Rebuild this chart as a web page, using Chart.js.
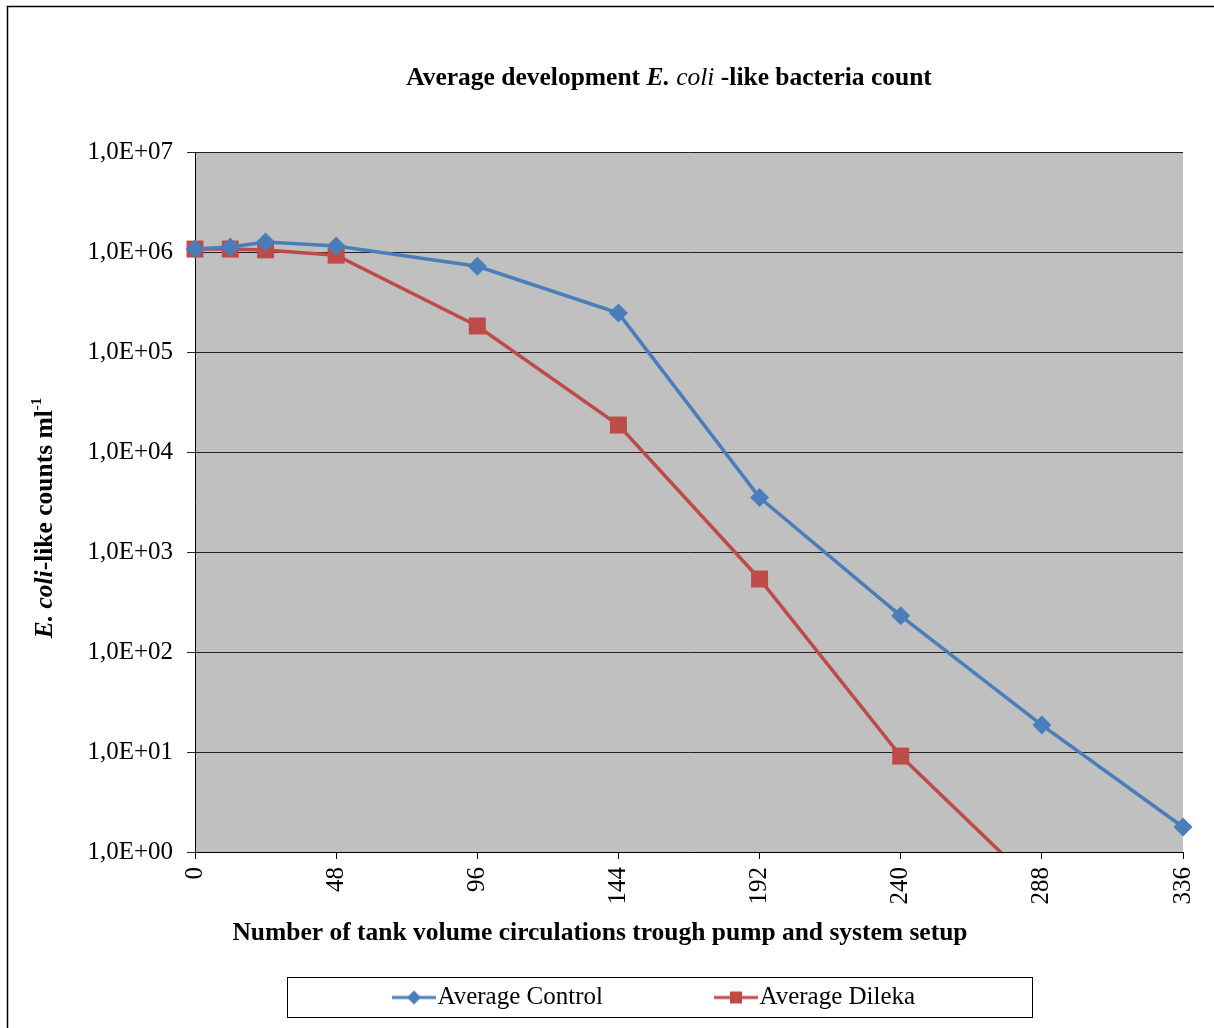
<!DOCTYPE html>
<html>
<head>
<meta charset="utf-8">
<script src="https://cdn.jsdelivr.net/npm/chart.js@4.4.1/dist/chart.umd.min.js"></script>
<style>
  html, body { margin: 0; padding: 0; background: #fff; }
  #wrap { width: 1214px; height: 1028px; position: relative; }
</style>
</head>
<body>
<div id="wrap"><canvas id="myChart"></canvas></div>
<script>
// number of tank volume circulations (x)
const circulations = [0, 12, 24, 48, 96, 144, 192, 240, 288, 336];
// average counts per ml
const controlCounts = [1.07e6, 1.12e6, 1.26e6, 1.15e6, 7.2e5, 2.45e5, 3.5e3, 230, 18.6, 1.78];
// last Dileka value lies below the axis, only the line into it shows
const dilekaCounts = [1.07e6, 1.07e6, 1.05e6, 9.3e5, 1.82e5, 1.86e4, 537, 9.1, 0.4];
const seriesNames = ["Average Control", "Average Dileka"];
const xTicks = [0, 48, 96, 144, 192, 240, 288, 336];
const yTicks = [1, 10, 100, 1e3, 1e4, 1e5, 1e6, 1e7];

const SERIF = '"Liberation Serif", "Times New Roman", serif';
const BLUE = "#4A7EBB";
const RED = "#BE4B48";

//turns 1e5 into 1,0E+05
const sciLabel = (v) => {
  const e = Math.round(Math.log10(v));
  return "1,0E" + (e < 0 ? "-" : "+") + String(Math.abs(e)).padStart(2, "0");
};

const toPoints = (xs, ys) => ys.map((y, i) => ({ x: xs[i], y: y }));

//small line+marker image for the legend (marker sits at the right end)
const legendIcon = (color, shape) => {
  const c = document.createElement("canvas");
  c.width = 158;
  c.height = 20;
  const g = c.getContext("2d");
  const x0 = 158 - 44, cx = 158 - 22, cy = 10;
  g.strokeStyle = color;
  g.lineWidth = 3;
  g.beginPath();
  g.moveTo(x0, cy);
  g.lineTo(158, cy);
  g.stroke();
  g.fillStyle = color;
  g.beginPath();
  if (shape === "diamond") {
    g.moveTo(cx, cy - 7);
    g.lineTo(cx + 7, cy);
    g.lineTo(cx, cy + 7);
    g.lineTo(cx - 7, cy);
    g.closePath();
  } else {
    g.rect(cx - 6, cy - 6, 12, 12);
  }
  g.fill();
  return c;
};
const legendIcons = [legendIcon(BLUE, "diamond"), legendIcon(RED, "square")];

//draw text made of pieces with different font styles, centered on (x, y)
function drawRich(ctx, parts, x, y) {
  let total = 0;
  parts.forEach((p) => {
    ctx.font = p.font;
    p.w = ctx.measureText(p.text).width;
    total += p.w;
  });
  let cx = x - total / 2;
  ctx.textBaseline = "middle";
  ctx.textAlign = "left";
  parts.forEach((p) => {
    ctx.font = p.font;
    ctx.fillText(p.text, cx, y + (p.dy || 0));
    cx += p.w;
  });
}

const framePlugin = {
  id: "frame",
  beforeDraw(chart) {
    const { ctx, chartArea: a } = chart;
    ctx.save();
    ctx.fillStyle = "#fff";
    ctx.fillRect(0, 0, chart.width, chart.height);
    ctx.fillStyle = "#C0C0C0";
    ctx.fillRect(a.left, a.top, a.right - a.left, a.bottom - a.top);
    //outer chart border
    ctx.strokeStyle = "#000";
    ctx.lineWidth = 1.5;
    ctx.strokeRect(7.5, 6.5, 1220, 1040);
    ctx.restore();
  },
  afterLayout(chart) {
    //move the legend row to where the reference puts it
    if (chart.legend) {
      chart.legend.left = 281;
      chart.legend.top = 977;
      chart.legend.bottom = 1028;
    }
  },
  afterDraw(chart) {
    const { ctx } = chart;
    ctx.save();
    ctx.fillStyle = "#000";
    //main title
    drawRich(ctx, [
      { text: "Average development ", font: "bold 25.5px " + SERIF },
      { text: "E.", font: "italic bold 25.5px " + SERIF },
      { text: " coli", font: "italic 25.5px " + SERIF },
      { text: " -like bacteria count", font: "bold 25.5px " + SERIF },
    ], 669, 78);
    //x axis title
    drawRich(ctx, [
      { text: "Number of tank volume circulations trough pump and system setup", font: "bold 25.5px " + SERIF },
    ], 600, 933);
    //y axis title, rotated
    ctx.translate(45, 518);
    ctx.rotate(-Math.PI / 2);
    drawRich(ctx, [
      { text: "E. coli", font: "italic bold 25.5px " + SERIF },
      { text: "-like counts ml", font: "bold 25.5px " + SERIF },
      { text: "-1", font: "bold 15px " + SERIF, dy: -8 },
    ], 0, 0);
    ctx.restore();
    //legend frame
    ctx.save();
    ctx.strokeStyle = "#000";
    ctx.lineWidth = 1;
    ctx.strokeRect(287.5, 977.5, 745, 40);
    ctx.restore();
  },
};

const chartData = {
  datasets: [
    {
      label: seriesNames[0],
      data: toPoints(circulations, controlCounts),
      borderColor: BLUE,
      backgroundColor: BLUE,
      borderWidth: 3.5,
      pointStyle: "rectRot",
      pointRadius: 9.5,
      pointBorderWidth: 0,
      clip: { left: 20, top: 20, right: 20, bottom: 0 },
    },
    {
      label: seriesNames[1],
      data: toPoints(circulations, dilekaCounts),
      borderColor: RED,
      backgroundColor: RED,
      borderWidth: 3.5,
      pointStyle: "rect",
      pointRadius: 12,
      pointBorderWidth: 0,
      clip: { left: 20, top: 20, right: 20, bottom: 0 },
    },
  ],
};

const chartOptions = {
  responsive: true,
  maintainAspectRatio: false,
  animation: false,
  events: [],
  layout: { padding: { top: 152, right: 31, left: 0, bottom: 23 } },
  scales: {
    x: {
      type: "linear",
      min: 0,
      max: 336,
      afterBuildTicks: (scale) => { scale.ticks = xTicks.map((v) => ({ value: v })); },
      afterFit: (scale) => {
        scale.height = 110;
        //rotated end labels should not shrink the plot
        scale.paddingLeft = 0;
        scale.paddingRight = 0;
      },
      grid: { drawOnChartArea: false, color: "#000", tickLength: 7, lineWidth: 1 },
      border: { color: "#000", width: 1 },
      ticks: {
        minRotation: 90,
        maxRotation: 90,
        padding: 8,
        color: "#000",
        font: { family: SERIF, size: 25 },
      },
    },
    y: {
      type: "logarithmic",
      min: 1,
      max: 1e7,
      afterBuildTicks: (scale) => { scale.ticks = yTicks.map((v) => ({ value: v })); },
      afterFit: (scale) => { scale.width = 195; },
      grid: { color: "#222", tickLength: 8, lineWidth: 1 },
      border: { color: "#000", width: 1 },
      ticks: {
        padding: 14,
        color: "#000",
        font: { family: SERIF, size: 25 },
        callback: (v) => sciLabel(v),
      },
    },
  },
  plugins: {
    title: { display: false },
    tooltip: { enabled: false },
    legend: {
      position: "bottom",
      align: "start",
      labels: {
        color: "#000",
        font: { family: SERIF, size: 25 },
        usePointStyle: true,
        pointStyleWidth: 136,
        padding: 8,
        generateLabels: (chart) => {
          const items = Chart.defaults.plugins.legend.labels.generateLabels(chart);
          items.forEach((it, i) => { it.pointStyle = legendIcons[i]; });
          return items;
        },
      },
    },
  },
};

const ctx = document.getElementById("myChart").getContext("2d");
new Chart(ctx, {
  type: "line",
  data: chartData,
  options: chartOptions,
  plugins: [framePlugin],
});
</script>
</body>
</html>
